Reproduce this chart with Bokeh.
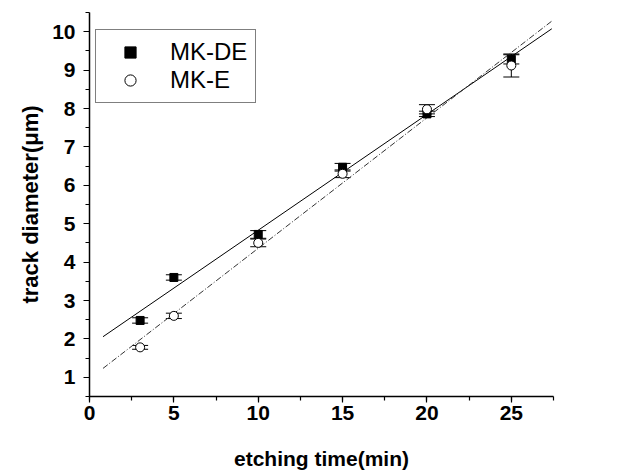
import numpy as np
from bokeh.plotting import figure
from bokeh.models import (ColumnDataSource, Range1d, SingleIntervalTicker, Whisker,
                          TeeHead, Legend, LegendItem, LinearAxis)
from bokeh.embed import file_html
from bokeh.resources import INLINE

# ---- data ----
etch_time = [3, 5, 10, 15, 20, 25]
mk_de = [2.48, 3.60, 4.72, 6.47, 7.86, 9.28]
mk_de_err = [0.07, 0.07, 0.10, 0.10, 0.07, 0.12]
mk_e = [1.78, 2.60, 4.50, 6.30, 7.98, 9.12]
mk_e_err = [0.05, 0.07, 0.10, 0.10, 0.12, 0.30]
fit_x = [0.8, 27.4]
x_ticks_interval = 5
y_ticks_interval = 1
x_title = "etching time(min)"
y_title = "track diameter(μm)"

FONT = "Liberation Sans"

p = figure(frame_width=464, frame_height=384, output_backend="svg", toolbar_location=None,
           x_range=Range1d(0, 27.5), y_range=Range1d(0.5, 10.5),
           min_border_left=89, min_border_right=74, min_border_top=12, min_border_bottom=77)
p.outline_line_color = None
p.grid.visible = False
p.axis.visible = False

xaxis = LinearAxis(ticker=SingleIntervalTicker(interval=x_ticks_interval, num_minor_ticks=2),
                   axis_label=x_title)
yaxis = LinearAxis(ticker=SingleIntervalTicker(interval=y_ticks_interval, num_minor_ticks=2),
                   axis_label=y_title)
for ax in (xaxis, yaxis):
    ax.axis_line_color = "black"
    ax.axis_line_width = 1.5
    ax.major_tick_line_color = "black"
    ax.minor_tick_line_color = "black"
    ax.major_tick_line_width = 1.2
    ax.minor_tick_line_width = 1.2
    ax.major_tick_in = 0
    ax.major_tick_out = 6
    ax.minor_tick_in = 0
    ax.minor_tick_out = 4
    ax.major_label_text_font = FONT
    ax.major_label_text_font_style = "bold"
    ax.major_label_text_font_size = "21px"
    ax.major_label_text_color = "black"
    ax.axis_label_text_font = FONT
    ax.axis_label_text_font_style = "bold"
    ax.axis_label_text_color = "black"
xaxis.axis_label_text_font_size = "21px"
yaxis.axis_label_text_font_size = "22px"
xaxis.major_label_standoff = 3
xaxis.axis_label_standoff = 24
yaxis.major_label_standoff = 8
yaxis.axis_label_standoff = 6
p.add_layout(xaxis, "below")
p.add_layout(yaxis, "left")

# fit lines
de_fit = np.polyfit(etch_time, mk_de, 1)
e_fit = np.polyfit(etch_time, mk_e, 1)
p.line(fit_x, list(np.polyval(de_fit, fit_x)), line_color="black", line_width=1)
p.line(fit_x, list(np.polyval(e_fit, fit_x)), line_color="#333333", line_width=1,
       line_dash="6 2 1 2")

src_de = ColumnDataSource(dict(x=etch_time, y=mk_de,
                               lo=[a - b for a, b in zip(mk_de, mk_de_err)],
                               hi=[a + b for a, b in zip(mk_de, mk_de_err)]))
src_e = ColumnDataSource(dict(x=etch_time, y=mk_e,
                              lo=[a - b for a, b in zip(mk_e, mk_e_err)],
                              hi=[a + b for a, b in zip(mk_e, mk_e_err)]))

for src in (src_de, src_e):
    w = Whisker(source=src, base="x", lower="lo", upper="hi", line_color="black",
                line_width=1,
                upper_head=TeeHead(size=16, line_color="black", line_width=1),
                lower_head=TeeHead(size=16, line_color="black", line_width=1))
    p.add_layout(w)

r_de = p.scatter("x", "y", source=src_de, marker="square", size=8,
                 fill_color="black", line_color="black")
r_e = p.scatter("x", "y", source=src_e, marker="circle", size=9,
                fill_color="white", line_color="black", line_width=1)

legend = Legend(items=[LegendItem(label="MK-DE", renderers=[r_de]),
                       LegendItem(label="MK-E", renderers=[r_e])],
                location=(6, 293))
legend.border_line_color = "black"
legend.border_line_width = 1
legend.background_fill_alpha = 1
legend.label_text_font = FONT
legend.label_text_font_size = "24px"
legend.label_text_color = "black"
legend.glyph_width = 52
legend.label_standoff = 14
legend.spacing = 0
legend.padding = 8
legend.margin = 0
legend.label_height = 28
legend.glyph_height = 28
p.add_layout(legend, "center")

open("out.html", "w").write(file_html(p, INLINE))
